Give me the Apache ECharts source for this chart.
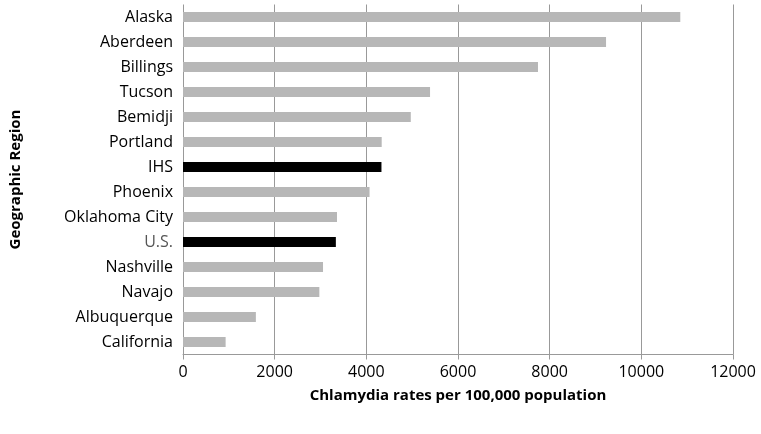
<!DOCTYPE html>
<html><head><meta charset="utf-8">
<script src="https://cdn.jsdelivr.net/npm/echarts@6/dist/echarts.min.js"></script>
<style>html,body{margin:0;padding:0;background:#fff}#c{width:761px;height:434px}</style>
</head><body><div id="c"></div>
<script>
const categories = ["Alaska","Aberdeen","Billings","Tucson","Bemidji","Portland","IHS","Phoenix","Oklahoma City","U.S.","Nashville","Navajo","Albuquerque","California"];
const values = [10850,9230,7745,5390,4970,4335,4330,4070,3360,3335,3055,2975,1590,930];
const highlighted = ["IHS","U.S."];
const xTicks = [0,2000,4000,6000,8000,10000,12000];
const chart = echarts.init(document.getElementById('c'));
const font = "'Open Sans', 'DejaVu Sans', sans-serif";
chart.setOption({
  animation:false,
  grid:{left:177,right:28,top:4.5,bottom:79.5,containLabel:false},
  xAxis:{type:'value',min:xTicks[0],max:xTicks[xTicks.length-1],interval:2000,
    name:'Chlamydia rates per 100,000 population',nameLocation:'middle',nameGap:34,
    nameTextStyle:{fontFamily:font,fontSize:15,fontWeight:'bold',color:'#000'},
    axisLine:{show:true,lineStyle:{color:'#999'}},axisTick:{show:true,length:5,lineStyle:{color:'#999'}},
    axisLabel:{fontFamily:font,fontSize:16,color:'#000',margin:10,formatter:(v)=>String(v)},
    splitLine:{show:true,lineStyle:{color:'#999',width:1}}},
  yAxis:{type:'category',data:categories,inverse:true,
    name:'Geographic Region',nameLocation:'middle',nameGap:160,nameRotate:90,
    nameTextStyle:{fontFamily:font,fontSize:15,fontWeight:'bold',color:'#000'},
    axisLine:{show:false},axisTick:{show:false},
    axisLabel:{fontFamily:font,fontSize:16,margin:10,color:(v)=>v==='U.S.'?'#555':'#000'}},
  series:[{type:'bar',barWidth:10,
    data:values.map((v,i)=>({value:v,itemStyle:{color:highlighted.includes(categories[i])?'#000':'#b7b7b7'}}))}]
});
</script></body></html>
